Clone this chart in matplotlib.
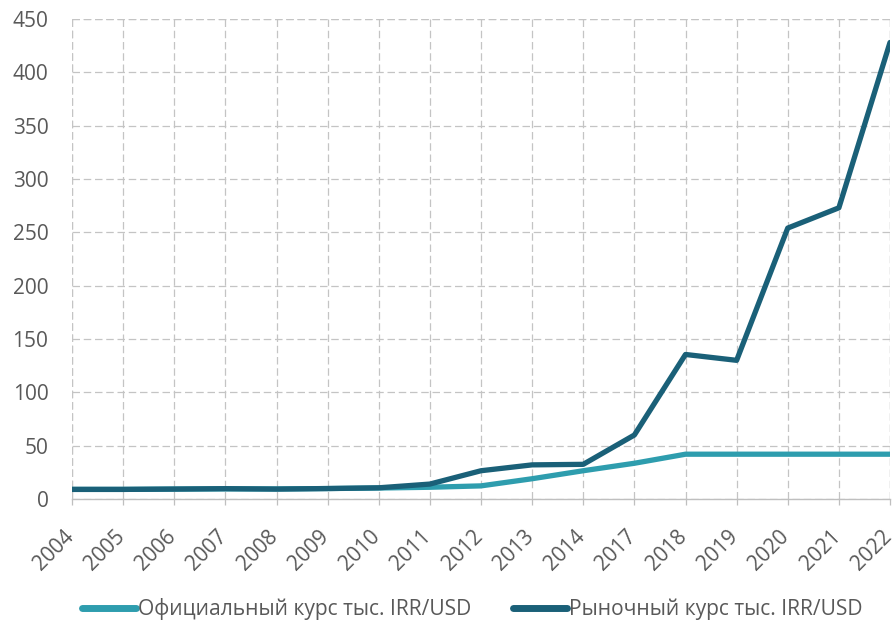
import matplotlib
matplotlib.use("Agg")
import matplotlib.pyplot as plt
from matplotlib.transforms import ScaledTranslation

years = ["2004", "2005", "2006", "2007", "2008", "2009", "2010", "2011", "2012",
         "2013", "2014", "2017", "2018", "2019", "2020", "2021", "2022"]
official = [9, 9, 9.3, 9.5, 9.4, 9.8, 10.3, 11, 12.3, 19, 26.5, 33.5, 42, 42, 42, 42, 42]
market = [9, 9, 9.3, 9.7, 9.3, 9.8, 10.5, 14, 26.5, 32, 32.5, 60, 135.5, 130, 254, 273, 428]

label_off = "Официальный курс тыс. IRR/USD"
label_mkt = "Рыночный курс тыс. IRR/USD"

c_off = "#2E9DAE"
c_mkt = "#1A6078"
grey_txt = "#595959"
grid_c = "#C4C4C4"

fig = plt.figure(figsize=(8.96, 6.2), dpi=100)
ax = fig.add_axes([72/896, 1-499/620, (890-72)/896, (499-19)/620])

x = list(range(len(years)))
ax.plot(x, official, color=c_off, lw=3.8, solid_capstyle="round", solid_joinstyle="round", label=label_off, zorder=3)
ax.plot(x, market, color=c_mkt, lw=3.8, solid_capstyle="round", solid_joinstyle="round", label=label_mkt, zorder=4)

ax.set_xlim(0, len(years) - 1)
ax.set_ylim(0, 450)
ax.set_yticks(range(0, 451, 50))
ax.set_xticks(x)
ax.set_xticklabels(years)

for s in ["top", "right", "left"]:
    ax.spines[s].set_visible(False)
ax.spines["bottom"].set_color("#BFBFBF")
ax.spines["bottom"].set_linewidth(1.0)

ax.grid(True, color=grid_c, linestyle=(0, (6, 3)), linewidth=0.9, zorder=0)
ax.set_axisbelow(True)
ax.axvline(0, color=grid_c, linestyle=(0, (6, 3)), linewidth=0.9, zorder=0)
ax.axvline(len(years) - 1, color=grid_c, linestyle=(0, (6, 3)), linewidth=0.9, zorder=0)
ax.axhline(450, color=grid_c, linestyle=(0, (6, 3)), linewidth=0.9, zorder=0)

ax.tick_params(axis="y", length=0, colors=grey_txt, labelsize=15, pad=17)
ax.tick_params(axis="x", length=4, width=0.9, color="#BFBFBF", labelcolor=grey_txt,
               labelsize=15, pad=11)
for lab in ax.get_yticklabels():
    lab.set_fontfamily("Open Sans")
offset = ScaledTranslation(-9/100, -6/100, fig.dpi_scale_trans)
for lab in ax.get_xticklabels():
    lab.set_fontfamily("Open Sans")
    lab.set_rotation(45)
    lab.set_ha("right")
    lab.set_va("top")
    lab.set_rotation_mode("anchor")
    lab.set_transform(lab.get_transform() + offset)

leg = fig.legend(loc="center", bbox_to_anchor=(0.527, 1-609/620), ncol=2, frameon=False,
                 prop={"family": "Open Sans", "size": 15.1}, handlelength=2.55,
                 columnspacing=2.0, handletextpad=0.1)
for t in leg.get_texts():
    t.set_color(grey_txt)
for h in leg.legend_handles:
    h.set_linewidth(5)

fig.savefig("out.png", dpi=100)
